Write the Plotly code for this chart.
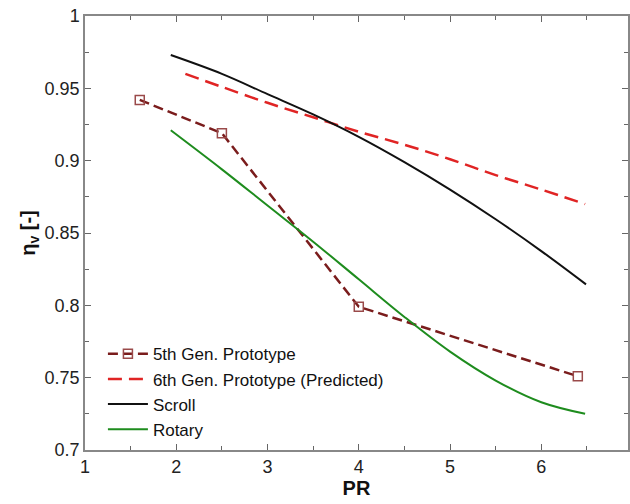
import plotly.graph_objects as go

# 5th Gen. Prototype (measured)
pr_5th = [1.6, 2.5, 4.0, 6.4]
eta_5th = [0.942, 0.919, 0.799, 0.751]

# 6th Gen. Prototype (Predicted)
pr_6th = [2.1, 2.5, 3.0, 3.5, 4.0, 4.5, 5.0, 5.5, 6.0, 6.48]
eta_6th = [0.960, 0.951, 0.940, 0.930, 0.920, 0.911, 0.901, 0.890, 0.880, 0.870]

# Scroll
pr_scroll = [1.94, 2.5, 3.0, 3.5, 4.0, 4.5, 5.0, 5.5, 6.0, 6.49]
eta_scroll = [0.973, 0.960, 0.946, 0.932, 0.9165, 0.899, 0.880, 0.8595, 0.8375, 0.8145]

# Rotary
pr_rotary = [1.94, 2.5, 3.0, 3.5, 4.0, 4.5, 5.0, 5.5, 6.0, 6.48]
eta_rotary = [0.921, 0.894, 0.869, 0.844, 0.818, 0.792, 0.768, 0.748, 0.733, 0.725]

x_ticks = [1, 2, 3, 4, 5, 6]
x_ticktext = ["1", "2", "3", "4", "5", "6"]
y_ticks = [0.7, 0.75, 0.8, 0.85, 0.9, 0.95, 1.0]
y_ticktext = ["0.7", "0.75", "0.8", "0.85", "0.9", "0.95", "1"]

FONT = "Liberation Sans, Arial, sans-serif"

fig = go.Figure()
fig.add_trace(go.Scatter(
    x=pr_5th, y=eta_5th, mode="lines+markers", name="5th Gen. Prototype",
    line=dict(color="#7a1c1c", width=2.5, dash="10px,5px"),
    marker=dict(symbol="square-open", size=9, color="#9a4a4a", line=dict(width=1.5)),
))
fig.add_trace(go.Scatter(
    x=pr_6th, y=eta_6th, mode="lines", name="6th Gen. Prototype (Predicted)",
    line=dict(color="#e02424", width=2.5, dash="14px,7px", shape="spline"),
))
fig.add_trace(go.Scatter(
    x=pr_scroll, y=eta_scroll, mode="lines", name="Scroll",
    line=dict(color="#111111", width=2, shape="spline"),
))
fig.add_trace(go.Scatter(
    x=pr_rotary, y=eta_rotary, mode="lines", name="Rotary",
    line=dict(color="#1e8c1e", width=2, shape="spline"),
))

axis_common = dict(
    showline=True, linecolor="#888888", linewidth=1.5, mirror="ticks",
    ticks="inside", ticklen=6, tickwidth=1.2, tickcolor="#666666",
    showgrid=False, zeroline=False, automargin=False,
    tickfont=dict(family=FONT, size=18, color="#222222"),
)

fig.update_xaxes(
    range=[1, 6.95], tickvals=x_ticks, ticktext=x_ticktext,
    title=dict(text="<b>PR</b>", font=dict(family=FONT, size=20, color="#111111"), standoff=0),
    minor=dict(ticks="inside", ticklen=4, dtick=0.5, tick0=1, tickcolor="#666666"),
    **axis_common,
)
fig.update_yaxes(
    range=[0.7, 1.0], tickvals=y_ticks, ticktext=y_ticktext,
    title=dict(text="<b>η<sub>v</sub> [-]</b>", font=dict(family=FONT, size=20, color="#111111"), standoff=4),
    minor=dict(ticks="inside", ticklen=4, dtick=0.025, tick0=0.7, tickcolor="#666666"),
    **axis_common,
)

fig.update_layout(
    width=630, height=504,
    margin=dict(l=85, r=2, t=16, b=54),
    paper_bgcolor="white", plot_bgcolor="white",
    showlegend=True,
    legend=dict(
        x=0.033, y=0.262, xanchor="left", yanchor="top",
        bgcolor="rgba(0,0,0,0)", borderwidth=0,
        font=dict(family=FONT, size=17, color="#111111"),
        itemwidth=40, tracegroupgap=0,
    ),
)

fig.write_html(
    "out.html",
    config={"displayModeBar": False},
    post_script="document.body.style.margin='0';document.body.style.overflow='hidden';",
)
